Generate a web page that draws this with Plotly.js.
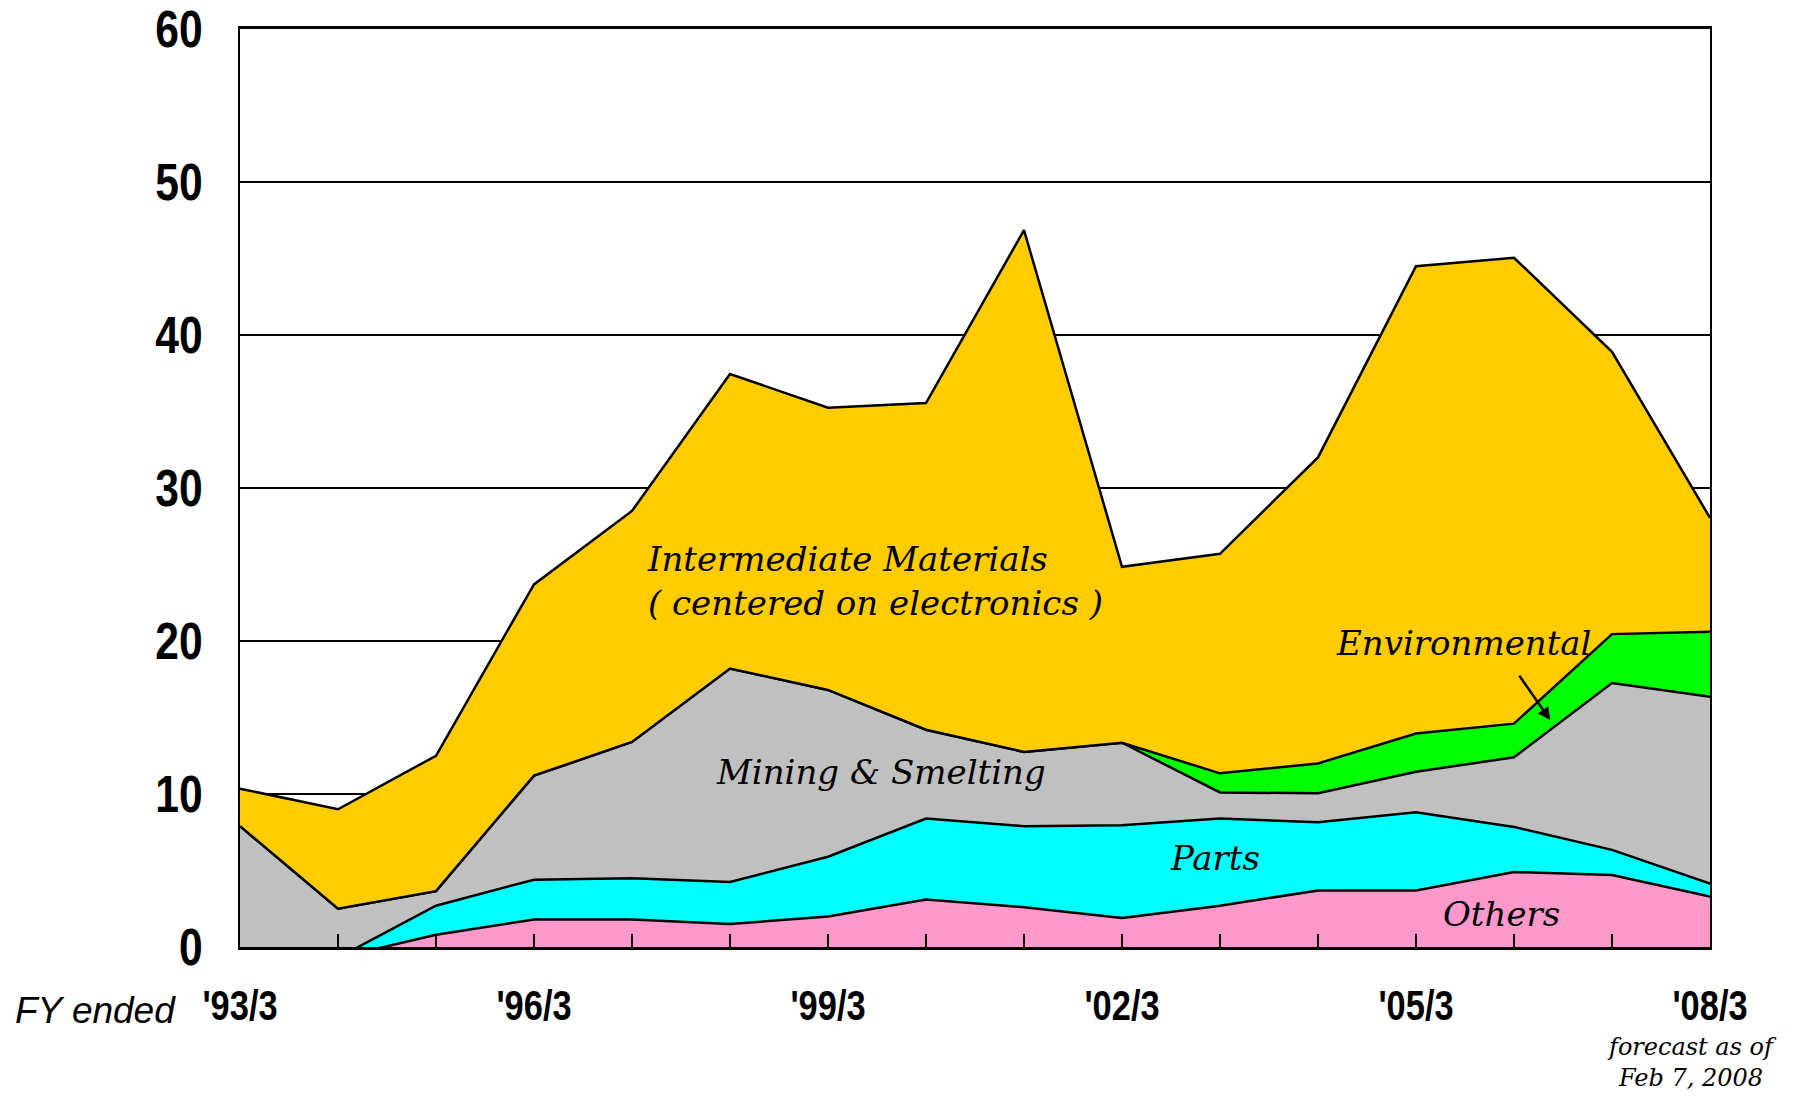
<!DOCTYPE html>
<html>
<head>
<meta charset="utf-8">
<script src="https://cdn.plot.ly/plotly-3.0.1.min.js"></script>
<style>
  html, body { margin: 0; padding: 0; background: #ffffff; }
  #chart { width: 1799px; height: 1096px; }
</style>
</head>
<body>
<div id="chart"></div>
<script>
// Fiscal years ended March
const years = [1993, 1994, 1995, 1996, 1997, 1998, 1999, 2000, 2001, 2002, 2003, 2004, 2005, 2006, 2007, 2008];
const tickLabels = ["'93/3", "", "", "'96/3", "", "", "'99/3", "", "", "'02/3", "", "", "'05/3", "", "", "'08/3"];
const yTickValues = [0, 10, 20, 30, 40, 50, 60];

// Segment values (stacked, bottom to top)
const others        = [-0.5, -0.7, 0.8, 1.8, 1.8, 1.5, 2.0, 3.1, 2.6, 1.9, 2.7, 3.7, 3.7, 4.9, 4.7, 3.3];
const parts         = [0.0, 0.0, 1.9, 2.6, 2.7, 2.75, 3.9, 5.3, 5.3, 6.05, 5.7, 4.45, 5.1, 2.95, 1.65, 0.85];
const mining        = [8.4, 3.2, 0.95, 6.8, 8.9, 13.95, 10.9, 5.8, 4.85, 5.4, 1.7, 1.9, 2.65, 4.55, 10.9, 12.2];
const environmental = [0, 0, 0, 0, 0, 0, 0, 0, 0, 0, 1.25, 1.95, 2.5, 2.2, 3.2, 4.25];
const intermediate  = [2.45, 6.5, 8.85, 12.5, 15.1, 19.25, 18.45, 21.35, 34.1, 11.5, 14.35, 20.0, 30.55, 30.45, 18.45, 7.45];

const seriesNames = ["Others", "Parts", "Mining & Smelting", "Environmental", "Intermediate Materials"];
const seriesValues = [others, parts, mining, environmental, intermediate];
const seriesColors = ["#FF99CC", "#00FFFF", "#C0C0C0", "#00FF00", "#FFCC00"];

const traces = seriesValues.map((vals, i) => ({
  type: "scatter",
  mode: "lines",
  x: years,
  y: vals,
  name: seriesNames[i],
  stackgroup: "one",
  fillcolor: seriesColors[i],
  line: { color: "#000000", width: 2.5, shape: "linear" },
  hoverinfo: "x+y+name"
}));

const serif = "DejaVu Serif, Liberation Serif, serif";
const sansBold = "Liberation Sans, Arial, sans-serif";

const layout = {
  width: 1799,
  height: 1096,
  paper_bgcolor: "#ffffff",
  plot_bgcolor: "#ffffff",
  showlegend: false,
  margin: { l: 240, r: 89, t: 29, b: 149, pad: 0 },
  xaxis: {
    range: [1993, 2008],
    tickmode: "array",
    tickvals: years,
    ticktext: tickLabels,
    ticks: "inside",
    ticklen: 13,
    tickwidth: 2,
    tickcolor: "#000000",
    showgrid: false,
    zeroline: false,
    showline: true,
    linecolor: "#000000",
    linewidth: 3,
    mirror: true,
    ticklabelstandoff: 20,
    ticklabeloverflow: "allow",
    tickfont: { family: sansBold, size: 42, color: "#000000", weight: "bold" }
  },
  yaxis: {
    range: [0, 60],
    tickmode: "array",
    tickvals: yTickValues,
    ticks: "",
    showgrid: true,
    gridcolor: "#000000",
    gridwidth: 2,
    zeroline: false,
    showline: true,
    linecolor: "#000000",
    linewidth: 2,
    mirror: true,
    ticklabelstandoff: 25,
    ticklabeloverflow: "allow",
    tickfont: { family: sansBold, size: 52, color: "#000000", weight: "bold" }
  },
  annotations: [
    {
      x: 1997.13, y: 23.95, xref: "x", yref: "y",
      xanchor: "left", yanchor: "middle", align: "left",
      text: "Intermediate Materials<br>( centered on electronics )",
      showarrow: false,
      font: { family: serif, size: 34, style: "italic", color: "#000000" }
    },
    {
      x: 1999.54, y: 11.47, xref: "x", yref: "y",
      xanchor: "center", yanchor: "middle",
      text: "Mining &amp; Smelting",
      showarrow: false,
      font: { family: serif, size: 34, style: "italic", color: "#000000" }
    },
    {
      x: 2002.95, y: 5.85, xref: "x", yref: "y",
      xanchor: "center", yanchor: "middle",
      text: "Parts",
      showarrow: false,
      font: { family: serif, size: 34, style: "italic", color: "#000000" }
    },
    {
      x: 2005.87, y: 2.13, xref: "x", yref: "y",
      xanchor: "center", yanchor: "middle",
      text: "Others",
      showarrow: false,
      font: { family: serif, size: 34, style: "italic", color: "#000000" }
    },
    {
      x: 2005.49, y: 19.84, xref: "x", yref: "y",
      xanchor: "center", yanchor: "middle",
      text: "Environmental",
      showarrow: false,
      font: { family: serif, size: 34, style: "italic", color: "#000000" }
    },
    {
      x: 2006.37, y: 14.83, xref: "x", yref: "y",
      ax: -32, ay: -46, axref: "pixel", ayref: "pixel",
      text: "",
      showarrow: true,
      arrowhead: 2,
      arrowsize: 1,
      arrowwidth: 2.5,
      arrowcolor: "#000000"
    },
    {
      x: -0.1544, y: -0.0697, xref: "paper", yref: "paper",
      xanchor: "left", yanchor: "middle",
      text: "FY ended",
      showarrow: false,
      font: { family: "Liberation Sans, Arial, sans-serif", size: 37, style: "italic", color: "#000000" }
    },
    {
      x: 0.9878, y: -0.1263, xref: "paper", yref: "paper",
      xanchor: "center", yanchor: "middle", align: "center",
      text: "forecast as of<br>Feb 7, 2008",
      showarrow: false,
      font: { family: serif, size: 24, style: "italic", color: "#000000" }
    }
  ]
};

// Narrow the bold tick labels horizontally (the original uses a condensed face)
function condenseTickLabels() {
  document.querySelectorAll("#chart .xtick text, #chart .ytick text").forEach(t => {
    const w = t.getComputedTextLength();
    if (w > 0) {
      t.setAttribute("textLength", (w * 0.82).toFixed(1));
      t.setAttribute("lengthAdjust", "spacingAndGlyphs");
    }
  });
}

Plotly.newPlot("chart", traces, layout, { displayModeBar: false, staticPlot: true })
  .then(condenseTickLabels);
</script>
</body>
</html>
